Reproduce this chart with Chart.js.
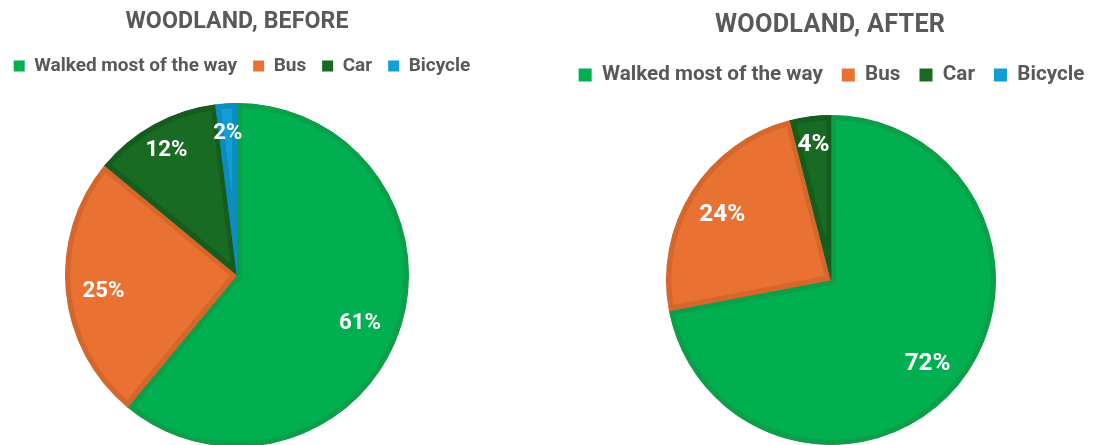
<!DOCTYPE html>
<html><head><meta charset="utf-8">
<script src="https://cdn.jsdelivr.net/npm/chart.js@4.4.1/dist/chart.umd.min.js"></script>
<style>
html,body{margin:0;padding:0;background:#fff;width:1097px;height:445px;overflow:hidden;position:relative;}
.box{position:absolute;top:0;height:460px;}
#w1{left:-8px;width:500px;}
#w2{left:554px;width:555px;}
</style></head><body>
<div class="box" id="w1"><canvas id="c1"></canvas></div>
<div class="box" id="w2"><canvas id="c2"></canvas></div>
<script>
// ---- data ----
const categories = ["Walked most of the way", "Bus", "Car", "Bicycle"];
const beforeValues = [61, 25, 12, 2];
const afterValues = [72, 24, 4, 0];
const chartTitles = ["WOODLAND, BEFORE", "WOODLAND, AFTER"];
const fillColors = ["#00B050", "#E97132", "#196B24", "#0F9ED5"];
const edgeColors = ["#0B9F49", "#D5672D", "#155D1F", "#0D8CC0"];

// ---- layout (canvas-local coordinates) ----
const FAMILY = "Roboto";
const TEXT = "#595959";
const layouts = [
  {id: "c1", values: beforeValues, title: chartTitles[0], cx: 245, cy: 275, r: 172,
   titleX: 245, titleY: 22, titleW: 223, legendW: 203, legendY: 66, legendPad: 16, box: 11, labelW: 42},
  {id: "c2", values: afterValues, title: chartTitles[1], cx: 277, cy: 280, r: 165,
   titleX: 276, titleY: 26, titleW: 230, legendW: 221, legendY: 75, legendPad: 19, box: 13, labelW: 46}
];

const mctx = document.createElement("canvas").getContext("2d");
function fitSize(text, width) {
  mctx.font = "bold 100px " + FAMILY;
  return 100 * width / mctx.measureText(text).width;
}

layouts.forEach(L => {
  const legendSize = fitSize(categories[0], L.legendW);
  const titleSize = legendSize * 1.22;
  mctx.font = "bold " + titleSize + "px " + FAMILY;
  const rawW = mctx.measureText(L.title).width;
  const spacing = Math.max(0, (L.titleW - rawW) / (L.title.length - 1));
  const labelSize = fitSize(L.values[0] + "%", L.labelW);

  const framePlugin = {
    id: "frame" + L.id,
    afterLayout(chart) {
      chart.chartArea = {left: L.cx - L.r, top: L.cy - L.r, right: L.cx + L.r, bottom: L.cy + L.r,
                         width: 2 * L.r, height: 2 * L.r};
    },
    afterDatasetsDraw(chart) {
      const ctx = chart.ctx;
      const meta = chart.getDatasetMeta(0);
      ctx.save();
      ctx.fillStyle = "#FFFFFF";
      ctx.font = "bold " + labelSize + "px " + FAMILY;
      ctx.textAlign = "center";
      ctx.textBaseline = "middle";
      meta.data.forEach((arc, i) => {
        const v = L.values[i];
        if (!v) return;
        const p = arc.getProps(["x", "y", "startAngle", "endAngle", "outerRadius"], true);
        const mid = (p.startAngle + p.endAngle) / 2;
        const frac = v >= 50 ? 0.76 : (v >= 20 ? 0.78 : 0.85);
        const d = p.outerRadius * frac;
        ctx.fillText(v + "%", p.x + Math.cos(mid) * d, p.y + Math.sin(mid) * d + 4);
      });
      ctx.restore();
    },
    afterDraw(chart) {
      const ctx = chart.ctx;
      ctx.save();
      ctx.fillStyle = TEXT;
      ctx.font = "bold " + titleSize + "px " + FAMILY;
      ctx.letterSpacing = spacing + "px";
      ctx.textAlign = "center";
      ctx.textBaseline = "middle";
      ctx.fillText(L.title, L.titleX + spacing / 2, L.titleY);
      ctx.restore();
    }
  };

  new Chart(document.getElementById(L.id), {
    type: "pie",
    data: {
      labels: categories,
      datasets: [{
        data: L.values,
        backgroundColor: fillColors,
        borderColor: edgeColors,
        borderWidth: 5,
        borderAlign: "inner",
        clip: false
      }]
    },
    options: {
      responsive: true,
      maintainAspectRatio: false,
      animation: false,
      events: [],
      layout: {padding: {top: L.legendY - L.legendPad - legendSize / 2, left: 0, right: 0, bottom: 0}},
      plugins: {
        title: {display: false},
        tooltip: {enabled: false},
        legend: {
          display: true,
          position: "top",
          labels: {
            boxWidth: L.box, boxHeight: L.box,
            padding: L.legendPad,
            color: TEXT,
            font: {family: FAMILY, size: legendSize, weight: "bold"},
            generateLabels(chart) {
              const items = Chart.controllers.pie.overrides.plugins.legend.labels.generateLabels(chart);
              items.forEach(it => { it.lineWidth = 0; it.strokeStyle = it.fillStyle; });
              return items;
            }
          }
        }
      }
    },
    plugins: [framePlugin]
  });
});
</script>
</body></html>
